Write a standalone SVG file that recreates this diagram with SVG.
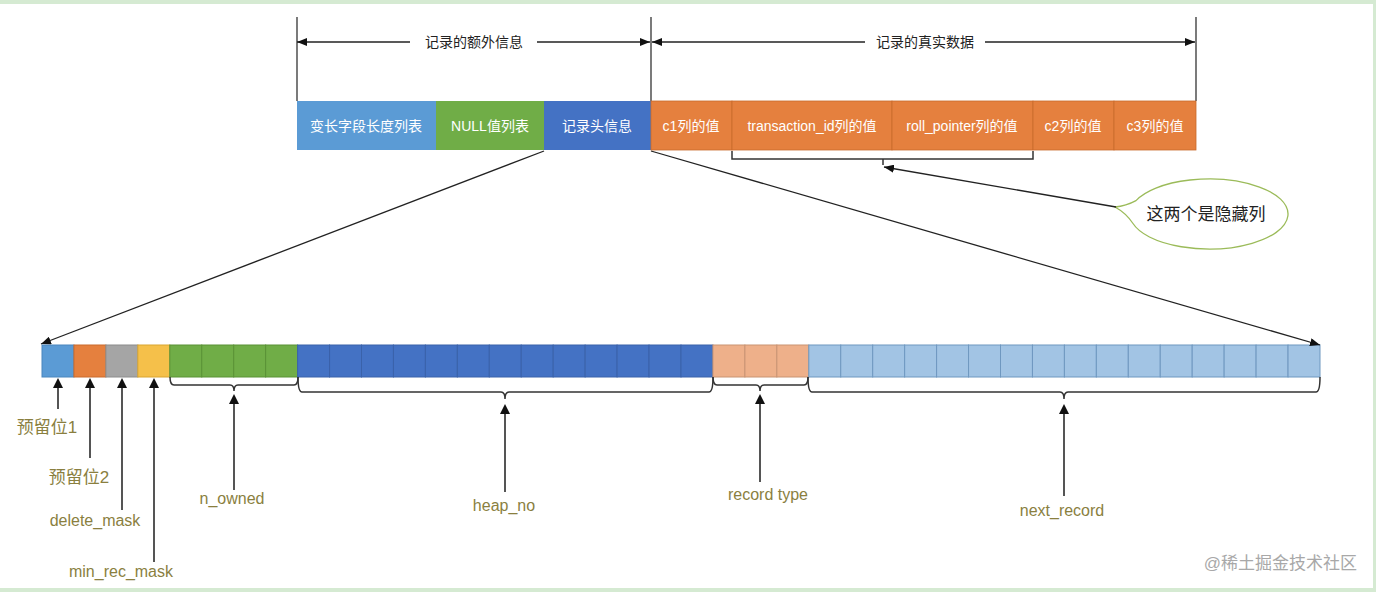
<svg xmlns="http://www.w3.org/2000/svg" width="1376" height="592" viewBox="0 0 1376 592">
<defs>
<marker id="ah" markerUnits="userSpaceOnUse" markerWidth="10" markerHeight="8" refX="10" refY="4" orient="auto">
<path d="M0,0 L10,4 L0,8 Z" fill="#111"/>
</marker>
<style>
.t{font-family:"Liberation Sans","Noto Sans CJK SC",sans-serif;}
.cell{font-size:14px;fill:#fff;text-anchor:middle;}
.hdr{font-size:14px;fill:#222;text-anchor:middle;}
.lbl{fill:#8a7f3f;text-anchor:middle;font-size:16px;}
.lblc{fill:#8a7f3f;text-anchor:middle;font-size:17px;}
.vl{stroke:#333;stroke-width:1.3;fill:none;}
.ln{stroke:#222;stroke-width:1.3;fill:none;}
.up{stroke:#555;stroke-width:2;fill:none;}
.br{stroke:#333;stroke-width:1.5;fill:none;}
.b1{fill:#5b9bd5;stroke:#4a86bd;}
.b2{fill:#e5803e;stroke:#c96a2c;}
.b3{fill:#a5a5a5;stroke:#8c8c8c;}
.b4{fill:#f5c04a;stroke:#d9a530;}
.b5{fill:#70ad47;stroke:#5a9236;}
.b6{fill:#4472c4;stroke:#3a62aa;}
.b7{fill:#eeb08a;stroke:#c99473;}
.b8{fill:#a2c4e4;stroke:#6f98c0;}
</style>
</defs>
<rect x="0" y="0" width="1376" height="592" fill="#d5ead2"/>
<rect x="0" y="4" width="1373" height="584" fill="#fff"/>

<g id="header-extra">
<line class="vl" x1="297" y1="17" x2="297" y2="101"/>
<line class="ln" x1="410" y1="42" x2="297" y2="42" marker-end="url(#ah)"/>
<line class="ln" x1="537" y1="42" x2="650" y2="42" marker-end="url(#ah)"/>
<text class="t hdr" x="474" y="47">记录的额外信息</text>
</g>
<g id="header-real">
<line class="vl" x1="651" y1="17" x2="651" y2="101"/>
<line class="vl" x1="1196" y1="17" x2="1196" y2="101"/>
<line class="ln" x1="865" y1="42" x2="652" y2="42" marker-end="url(#ah)"/>
<line class="ln" x1="985" y1="42" x2="1195" y2="42" marker-end="url(#ah)"/>
<text class="t hdr" x="925" y="47">记录的真实数据</text>
</g>

<g id="record">
<rect x="297" y="101" width="139" height="49" fill="#5b9bd5"/>
<rect x="436" y="101" width="108" height="49" fill="#70ad47"/>
<rect x="544" y="101" width="107" height="49" fill="#4472c4"/>
<rect x="651" y="101" width="81" height="49" fill="#e5803e" stroke="#c96a2c" stroke-width="0.8"/>
<rect x="732" y="101" width="160" height="49" fill="#e5803e" stroke="#c96a2c" stroke-width="0.8"/>
<rect x="892" y="101" width="141" height="49" fill="#e5803e" stroke="#c96a2c" stroke-width="0.8"/>
<rect x="1033" y="101" width="81" height="49" fill="#e5803e" stroke="#c96a2c" stroke-width="0.8"/>
<rect x="1114" y="101" width="82" height="49" fill="#e5803e" stroke="#c96a2c" stroke-width="0.8"/>
<text class="t cell" x="366" y="131">变长字段长度列表</text>
<text class="t cell" x="490" y="131">NULL值列表</text>
<text class="t cell" x="597" y="131">记录头信息</text>
<text class="t cell" x="691" y="131">c1列的值</text>
<text class="t cell" x="812" y="131">transaction_id列的值</text>
<text class="t cell" x="962" y="131">roll_pointer列的值</text>
<text class="t cell" x="1073" y="131">c2列的值</text>
<text class="t cell" x="1155" y="131">c3列的值</text>
</g>

<g id="callout">
<path d="M1136,200.6 Q1126,206 1115,207 Q1126,213 1133,223.5 A79,35 0 1 0 1136,200.6 Z" fill="#fff" stroke="#9bbb59" stroke-width="1.3"/>
<text class="t" x="1206" y="220" font-size="17" fill="#222" text-anchor="middle">这两个是隐藏列</text>
</g>

<g id="bits">
<rect class="b1" x="42" y="345" width="31.95" height="32"/>
<rect class="b2" x="73.95" y="345" width="31.95" height="32"/>
<rect class="b3" x="105.9" y="345" width="31.95" height="32"/>
<rect class="b4" x="137.85" y="345" width="31.95" height="32"/>
<rect class="b5" x="169.8" y="345" width="31.95" height="32"/>
<rect class="b5" x="201.75" y="345" width="31.95" height="32"/>
<rect class="b5" x="233.7" y="345" width="31.95" height="32"/>
<rect class="b5" x="265.65" y="345" width="31.95" height="32"/>
<rect class="b6" x="297.6" y="345" width="31.95" height="32"/>
<rect class="b6" x="329.55" y="345" width="31.95" height="32"/>
<rect class="b6" x="361.5" y="345" width="31.95" height="32"/>
<rect class="b6" x="393.45" y="345" width="31.95" height="32"/>
<rect class="b6" x="425.4" y="345" width="31.95" height="32"/>
<rect class="b6" x="457.35" y="345" width="31.95" height="32"/>
<rect class="b6" x="489.3" y="345" width="31.95" height="32"/>
<rect class="b6" x="521.25" y="345" width="31.95" height="32"/>
<rect class="b6" x="553.2" y="345" width="31.95" height="32"/>
<rect class="b6" x="585.15" y="345" width="31.95" height="32"/>
<rect class="b6" x="617.1" y="345" width="31.95" height="32"/>
<rect class="b6" x="649.05" y="345" width="31.95" height="32"/>
<rect class="b6" x="681" y="345" width="31.95" height="32"/>
<rect class="b7" x="712.95" y="345" width="31.95" height="32"/>
<rect class="b7" x="744.9" y="345" width="31.95" height="32"/>
<rect class="b7" x="776.85" y="345" width="31.95" height="32"/>
<rect class="b8" x="808.8" y="345" width="31.95" height="32"/>
<rect class="b8" x="840.75" y="345" width="31.95" height="32"/>
<rect class="b8" x="872.7" y="345" width="31.95" height="32"/>
<rect class="b8" x="904.65" y="345" width="31.95" height="32"/>
<rect class="b8" x="936.6" y="345" width="31.95" height="32"/>
<rect class="b8" x="968.55" y="345" width="31.95" height="32"/>
<rect class="b8" x="1000.5" y="345" width="31.95" height="32"/>
<rect class="b8" x="1032.45" y="345" width="31.95" height="32"/>
<rect class="b8" x="1064.4" y="345" width="31.95" height="32"/>
<rect class="b8" x="1096.35" y="345" width="31.95" height="32"/>
<rect class="b8" x="1128.3" y="345" width="31.95" height="32"/>
<rect class="b8" x="1160.25" y="345" width="31.95" height="32"/>
<rect class="b8" x="1192.2" y="345" width="31.95" height="32"/>
<rect class="b8" x="1224.15" y="345" width="31.95" height="32"/>
<rect class="b8" x="1256.1" y="345" width="31.95" height="32"/>
<rect class="b8" x="1288.05" y="345" width="31.95" height="32"/>
</g>

<g id="labels">
<text class="t lblc" x="47" y="433">预留位1</text>
<text class="t lblc" x="79" y="483">预留位2</text>
<text class="t lbl" x="95" y="526">delete_mask</text>
<text class="t lbl" x="121" y="577">min_rec_mask</text>
<text class="t lbl" x="232" y="504">n_owned</text>
<text class="t lbl" x="504" y="511">heap_no</text>
<text class="t lbl" x="768" y="500">record type</text>
<text class="t lbl" x="1062" y="516">next_record</text>
</g>

<g id="connectors">
<path class="br" d="M732,151 L732,159 L1033,159 L1033,151 M883,159 L883,165"/>
<line class="ln" x1="1116" y1="207" x2="884" y2="167" marker-end="url(#ah)"/>
<line class="ln" x1="544" y1="151" x2="41" y2="344" marker-end="url(#ah)"/>
<line class="ln" x1="651" y1="151" x2="1320" y2="345" marker-end="url(#ah)"/>
<line class="up" x1="58" y1="409" x2="58" y2="386"/>
<line class="up" x1="90" y1="458" x2="90" y2="386"/>
<line class="up" x1="122" y1="510" x2="122" y2="386"/>
<line class="up" x1="154" y1="562" x2="154" y2="386"/>
<path d="M53,388 L58,378 L63,388 Z" fill="#111"/>
<path d="M85,388 L90,378 L95,388 Z" fill="#111"/>
<path d="M117,388 L122,378 L127,388 Z" fill="#111"/>
<path d="M149,388 L154,378 L159,388 Z" fill="#111"/>
<path class="br" d="M170,377 Q170,385 174,385 L230,385 Q234,385 234,391 Q234,385 238,385 L294,385 Q298,385 298,377"/>
<line class="up" x1="234" y1="490" x2="234" y2="402"/>
<path d="M229,404 L234,394 L239,404 Z" fill="#111"/>
<path class="br" d="M298,377 Q298,392 302,392 L501,392 Q505,392 505,399 Q505,392 509,392 L709,392 Q713,392 713,377"/>
<line class="up" x1="505" y1="492" x2="505" y2="412"/>
<path d="M500,414 L505,404 L510,414 Z" fill="#111"/>
<path class="br" d="M713,377 Q713,385 717,385 L756,385 Q760,385 760,391 Q760,385 764,385 L804,385 Q808,385 808,377"/>
<line class="up" x1="760" y1="482" x2="760" y2="402"/>
<path d="M755,404 L760,394 L765,404 Z" fill="#111"/>
<path class="br" d="M808,377 Q808,392 812,392 L1060,392 Q1064,392 1064,399 Q1064,392 1068,392 L1316,392 Q1320,392 1320,377"/>
<line class="up" x1="1064" y1="496" x2="1064" y2="412"/>
<path d="M1059,414 L1064,404 L1069,414 Z" fill="#111"/>
</g>

<text class="t" x="1357" y="569" font-size="17" fill="#a8a8a8" text-anchor="end">@稀土掘金技术社区</text>
</svg>
